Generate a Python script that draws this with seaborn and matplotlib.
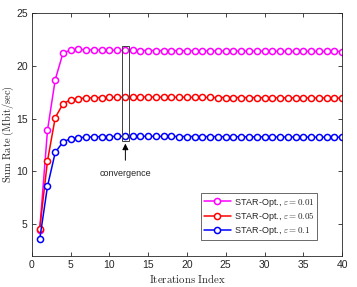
import numpy as np
import pandas as pd
import matplotlib
matplotlib.use("Agg")
import matplotlib.pyplot as plt
import seaborn as sns
from matplotlib.patches import Rectangle

# data
iterations = list(range(1, 41))
rate_001 = [4.5, 13.9, 18.7, 21.2, 21.5, 21.55, 21.52, 21.5, 21.49, 21.48,
            21.47, 21.46, 21.46, 21.45, 21.45, 21.44, 21.44, 21.43, 21.43, 21.42,
            21.42, 21.41, 21.41, 21.41, 21.40, 21.40, 21.40, 21.39, 21.39, 21.39,
            21.38, 21.38, 21.38, 21.37, 21.37, 21.37, 21.36, 21.36, 21.36, 21.35]
rate_005 = [4.6, 11.0, 15.1, 16.4, 16.8, 16.9, 16.95, 16.98, 17.0, 17.02,
            17.03, 17.04, 17.05, 17.05, 17.05, 17.04, 17.04, 17.03, 17.03, 17.02,
            17.02, 17.01, 17.01, 17.0, 17.0, 17.0, 16.99, 16.99, 16.99, 16.98,
            16.98, 16.98, 16.97, 16.97, 16.97, 16.96, 16.96, 16.96, 16.95, 16.95]
rate_01 = [3.6, 8.6, 11.8, 12.8, 13.1, 13.2, 13.25, 13.28, 13.3, 13.31,
           13.32, 13.33, 13.33, 13.33, 13.33, 13.32, 13.32, 13.32, 13.31, 13.31,
           13.31, 13.30, 13.30, 13.30, 13.29, 13.29, 13.29, 13.28, 13.28, 13.28,
           13.27, 13.27, 13.27, 13.26, 13.26, 13.26, 13.25, 13.25, 13.25, 13.25]
labels = [r"STAR-Opt., $\varepsilon = 0.01$",
          r"STAR-Opt., $\varepsilon = 0.05$",
          r"STAR-Opt., $\varepsilon = 0.1$"]
colors = ["#ff00ff", "#ff0000", "#0000ff"]

df = pd.DataFrame({
    "Iteration": iterations * 3,
    "Rate": rate_001 + rate_005 + rate_01,
    "Scheme": [labels[0]] * 40 + [labels[1]] * 40 + [labels[2]] * 40,
})

sns.set_theme(style="ticks")
plt.rcParams["font.family"] = ["Liberation Sans", "DejaVu Sans"]
plt.rcParams["mathtext.fontset"] = "cm"
plt.rcParams["legend.fontsize"] = 6.5

fig = plt.figure(figsize=(3.57, 2.87), dpi=100)
ax = fig.add_axes([0.0896, 0.108, 0.8684, 0.8467])

sns.lineplot(
    data=df, x="Iteration", y="Rate", hue="Scheme",
    palette=dict(zip(labels, colors)), marker="o", markersize=4.4,
    markerfacecolor="white", markeredgewidth=1.1, linewidth=1.1,
    ax=ax,
)
for line, c in zip(ax.lines, colors):
    line.set_markeredgecolor(c)

ax.set_xlim(0, 40)
ax.set_ylim(2, 25)
ax.set_xticks(range(0, 41, 5))
ax.set_yticks([5, 10, 15, 20, 25])
ax.tick_params(direction="in", length=3, width=0.6, labelsize=7.5,
               colors="#262626", top=True, right=True, pad=3)
for sp in ax.spines.values():
    sp.set_linewidth(0.6)
    sp.set_color("#262626")

ax.set_xlabel(r"$\mathrm{Iterations\ Index}$", fontsize=7.8, labelpad=1)
ax.set_ylabel(r"$\mathrm{Sum\ Rate\ (Mbit/sec)}$", fontsize=7.5, labelpad=0)

# convergence annotation
ax.add_patch(Rectangle((11.55, 12.9), 1.0, 9.0, fill=False,
                       edgecolor="#404040", linewidth=0.7, zorder=5))
ax.annotate("convergence", xy=(12.05, 12.9), xytext=(12.05, 9.8),
            ha="center", va="center", fontsize=6.5, color="#262626",
            arrowprops=dict(arrowstyle="-|>", color="black", lw=0.7,
                            mutation_scale=9, shrinkA=4))

leg = ax.legend(loc="lower right", bbox_to_anchor=(0.92, 0.066),
                borderaxespad=0, frameon=True, fancybox=False,
                edgecolor="#262626", handlelength=3.0, borderpad=0.3,
                labelspacing=0.15, handletextpad=0.3)
leg.get_frame().set_linewidth(0.6)
for h, c in zip(leg.legend_handles, colors):
    h.set_markerfacecolor("white")
    h.set_markeredgecolor(c)

fig.savefig("out.png", dpi=100)
